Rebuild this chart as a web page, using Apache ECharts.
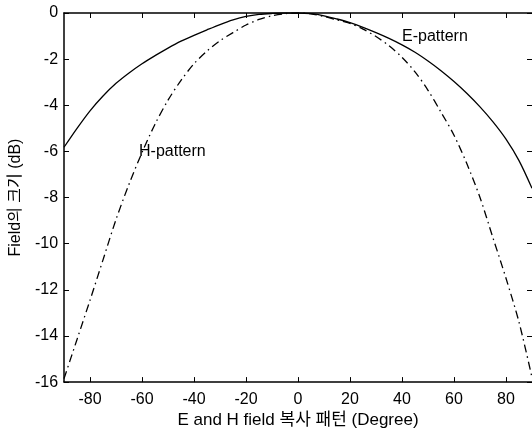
<!DOCTYPE html>
<html>
<head>
<meta charset="utf-8">
<script src="https://cdn.jsdelivr.net/npm/echarts@6/dist/echarts.min.js"></script>
<style>
  html, body { margin: 0; padding: 0; background: #fff; }
  #chart { width: 532px; height: 434px; }
</style>
</head>
<body>
<div id="chart"></div>
<script>
// 각도 (Degree)
var degrees = [-90, -85, -80, -75, -70, -65, -60, -55, -50, -45, -40, -35, -30, -25, -20, -15, -10, -5, 0,
               5, 10, 15, 20, 25, 30, 35, 40, 45, 50, 55, 60, 65, 70, 75, 80, 85, 90];
// E-pattern (실선)
var ePattern = [-5.82, -5.0, -4.24, -3.6, -3.05, -2.6, -2.2, -1.85, -1.52, -1.22, -0.97, -0.73, -0.5, -0.3, -0.15, -0.06, -0.02, 0, 0,
                -0.03, -0.12, -0.26, -0.42, -0.62, -0.85, -1.1, -1.38, -1.7, -2.08, -2.5, -2.97, -3.49, -4.07, -4.72, -5.47, -6.4, -7.6];
// H-pattern (일점쇄선)
var hPattern = [-15.85, -14.15, -12.45, -10.7, -8.95, -7.42, -6.05, -4.82, -3.78, -2.92, -2.2, -1.65, -1.2, -0.85, -0.52, -0.28, -0.12, -0.03, 0,
                -0.04, -0.15, -0.3, -0.45, -0.7, -1.02, -1.42, -1.92, -2.55, -3.35, -4.3, -5.3, -6.55, -8.0, -9.75, -11.5, -13.4, -15.8];
var xTicks = [-80, -60, -40, -20, 0, 20, 40, 60, 80];

function pairs(ys) {
    return degrees.map(function (d, i) { return [d, ys[i]]; });
}

var font = '"Liberation Sans", Arial, "Noto Sans CJK KR", sans-serif';
var black = '#000';

var chart = echarts.init(document.getElementById('chart'), null, { renderer: 'canvas' });

var baseX = {
    type: 'value',
    min: -90,
    max: 90,
    splitLine: { show: false },
    axisLine: { show: true, onZero: false, lineStyle: { color: black, width: 1.5 } },
    axisTick: { show: true, inside: true, length: 5, customValues: xTicks, lineStyle: { color: black } }
};

var option = {
    animation: false,
    backgroundColor: '#fff',
    grid: { left: 59, right: 0, top: 13, bottom: 50 },
    xAxis: [
        Object.assign({}, baseX, {
            position: 'bottom',
            name: 'E and H field 복사 패턴 (Degree)',
            nameLocation: 'middle',
            nameGap: 27,
            nameTextStyle: { color: black, fontSize: 17, fontFamily: font },
            axisLabel: { customValues: xTicks, color: black, fontSize: 16, fontFamily: font, margin: 9 }
        }),
        Object.assign({}, baseX, {
            position: 'top',
            axisLabel: { show: false }
        })
    ],
    yAxis: [
        {
            type: 'value',
            min: -16,
            max: 0,
            interval: 2,
            position: 'left',
            name: 'Field의 크기 (dB)',
            nameLocation: 'middle',
            nameGap: 38,
            nameTextStyle: { color: black, fontSize: 16, fontFamily: font },
            splitLine: { show: false },
            axisLine: { show: true, onZero: false, lineStyle: { color: black, width: 1.5 } },
            axisTick: { show: true, inside: true, length: 5, lineStyle: { color: black } },
            axisLabel: { color: black, fontSize: 16, fontFamily: font, margin: 6 }
        },
        {
            type: 'value',
            min: -16,
            max: 0,
            interval: 2,
            position: 'right',
            splitLine: { show: false },
            axisLine: { show: false, onZero: false },
            axisTick: { show: true, inside: true, length: 5, lineStyle: { color: black } },
            axisLabel: { show: false }
        }
    ],
    series: [
        {
            name: 'E-pattern',
            type: 'line',
            data: pairs(ePattern),
            showSymbol: false,
            smooth: 0.3,
            lineStyle: { color: black, width: 1.3 }
        },
        {
            name: 'H-pattern',
            type: 'line',
            data: pairs(hPattern),
            showSymbol: false,
            smooth: 0.3,
            lineStyle: { color: black, width: 1.3, type: [8, 4, 1.5, 4] }
        }
    ],
    graphic: [
        {
            type: 'text',
            left: 402,
            top: 29,
            style: { text: 'E-pattern', fill: black, fontSize: 16, fontFamily: font }
        },
        {
            type: 'text',
            left: 139,
            top: 144,
            style: { text: 'H-pattern', fill: black, fontSize: 16, fontFamily: font }
        }
    ]
};

chart.setOption(option);
</script>
</body>
</html>
